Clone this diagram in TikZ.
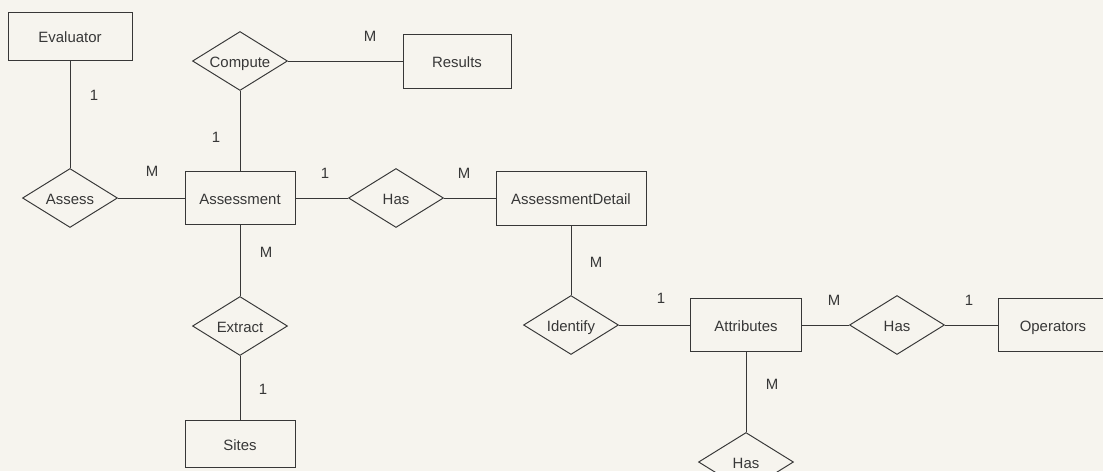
\documentclass[tikz,border=0pt]{standalone}
\usepackage{fontspec}
\setmainfont{Liberation Sans}
\usetikzlibrary{shapes.geometric}
\definecolor{paper}{RGB}{246,244,238}
\definecolor{ink}{RGB}{55,55,55}

\begin{document}
\begin{tikzpicture}[
    x=0.02cm, y=-0.02cm,
    every node/.style={font=\fontsize{8.5}{10}\selectfont, text=ink, text height=1.6ex, text depth=0.3ex},
    entity/.style={rectangle, draw=ink, line width=0.55pt, minimum width=2.2cm, minimum height=1.06cm},
    relation/.style={diamond, draw=ink, line width=0.55pt, aspect=1.6, inner sep=0pt, minimum width=1.9cm, minimum height=1.18cm},
    link/.style={draw=ink, line width=0.55pt},
    card/.style={inner sep=0pt}
]
    \useasboundingbox (0,0) rectangle (1103,471);
    \clip (0,0) rectangle (1103,471);
    \fill[paper] (0,0) rectangle (1103,471);

    % Entities
    \node[entity, minimum width=2.48cm, minimum height=0.96cm] (evaluator) at (70,36) {Evaluator};
    \node[entity, minimum width=2.16cm, minimum height=1.08cm] (results) at (457,61) {Results};
    \node[entity] (assessment) at (240,198) {Assessment};
    \node[entity, minimum width=3cm, minimum height=1.08cm] (detail) at (571,198) {AssessmentDetail};
    \node[entity, minimum height=0.94cm] (sites) at (240,444) {Sites};
    \node[entity, minimum width=2.22cm] (attributes) at (746,325) {Attributes};
    \node[entity] (operators) at (1053,325) {Operators};

    % Relationships
    \node[relation] (compute) at (240,61) {Compute};
    \node[relation] (assess) at (70,198) {Assess};
    \node[relation] (hasDetail) at (396,198) {Has};
    \node[relation] (extract) at (240,326) {Extract};
    \node[relation] (identify) at (571,325) {Identify};
    \node[relation] (hasOperator) at (897,325) {Has};
    \node[relation] (hasSub) at (746,462) {Has};

    % Links
    \draw[link] (evaluator) -- (assess);
    \draw[link] (assess) -- (assessment);
    \draw[link] (compute) -- (results);
    \draw[link] (compute) -- (assessment);
    \draw[link] (assessment) -- (hasDetail);
    \draw[link] (hasDetail) -- (detail);
    \draw[link] (assessment) -- (extract);
    \draw[link] (extract) -- (sites);
    \draw[link] (detail) -- (identify);
    \draw[link] (identify) -- (attributes);
    \draw[link] (attributes) -- (hasOperator);
    \draw[link] (hasOperator) -- (operators);
    \draw[link] (attributes) -- (hasSub);

    % Cardinalities
    \node[card] (cEvaluator) at (94,94) {1};
    \node[card] (cAssess) at (152,170) {M};
    \node[card] (cCompute) at (216,136) {1};
    \node[card] (cResults) at (370,35) {M};
    \node[card] (cHasOne) at (325,172) {1};
    \node[card] (cHasMany) at (464,172) {M};
    \node[card] (cExtract) at (266,251) {M};
    \node[card] (cSites) at (263,388) {1};
    \node[card] (cDetail) at (596,261) {M};
    \node[card] (cIdentify) at (661,297) {1};
    \node[card] (cAttributes) at (834,299) {M};
    \node[card] (cOperators) at (969,299) {1};
    \node[card] (cSub) at (772,383) {M};
\end{tikzpicture}
\end{document}
